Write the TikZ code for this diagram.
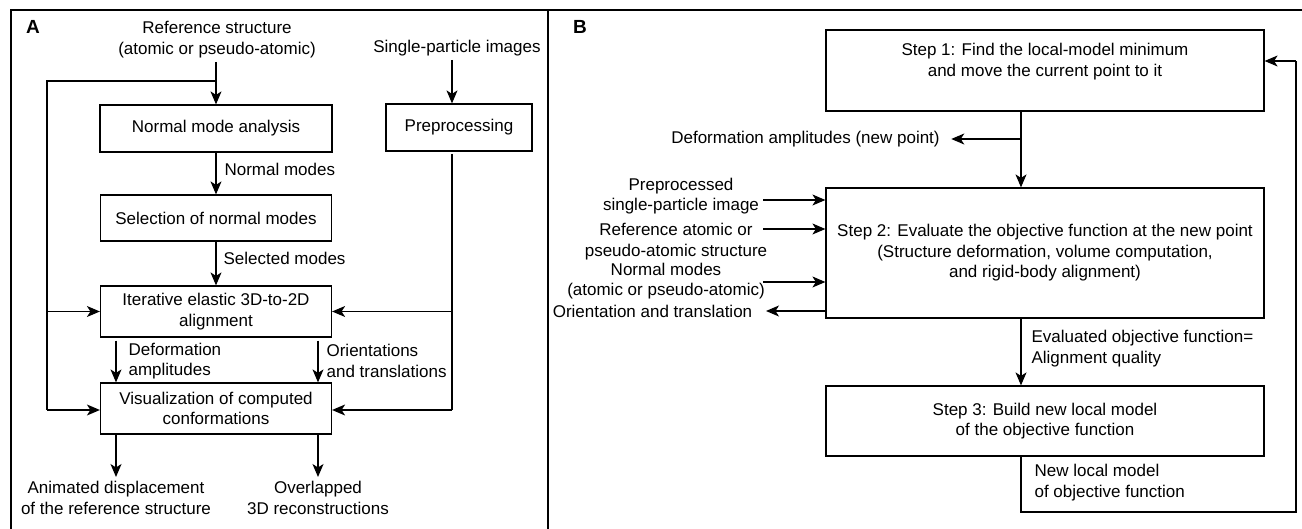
\documentclass[tikz,border=0pt]{standalone}
\usepackage{fontspec}
\setmainfont{Liberation Sans}
\usetikzlibrary{arrows.meta}
\begin{document}
\begin{tikzpicture}[x=1pt,y=-1pt,
  font=\fontsize{17}{20.5}\selectfont,
  line width=1.2pt,
  arr/.style={-{Stealth[length=13pt,width=11pt,inset=3.5pt]}},
  box/.style={draw,inner sep=0pt,align=center},
  lbl/.style={inner sep=0pt,align=center},
  lbll/.style={inner sep=0pt,align=left,anchor=west},
  panel/.style={font=\fontsize{19}{22}\selectfont\bfseries,inner sep=0pt}]
\useasboundingbox (0,0) rectangle (1302,529);
% frame
\coordinate (fTL) at (11,529);
\coordinate (fT) at (11,10);
\coordinate (fTR) at (1302,10);
\coordinate (dT) at (548,10);
\coordinate (dB) at (548,529);
\draw (fTL) -- (fT) -- (fTR);
\draw (dT) -- (dB);
\node[panel] (labA) at (33,27) {A};
\node[panel] (labB) at (580,27) {B};

% ---------- Panel A ----------
\node[lbl] (ref) at (217,39.5) {Reference structure\\(atomic or pseudo-atomic)};
\node[box,minimum width=232pt,minimum height=47pt] (nma) at (216,128.5) {Normal mode analysis};
\node[box,minimum width=231pt,minimum height=46pt] (sel) at (216,218) {Selection of normal modes};
\node[box,minimum width=231pt,minimum height=51pt] (iter) at (216,311.5) {Iterative elastic 3D-to-2D\\alignment};
\node[box,minimum width=231pt,minimum height=51pt] (vis) at (216,408.5) {Visualization of computed\\conformations};
\node[lbl] (spi) at (457,48) {Single-particle images};
\node[box,minimum width=146pt,minimum height=47pt] (prep) at (459,127.5) {Preprocessing};

\node[lbll] (nmlab) at (224,169) {Normal modes};
\node[lbll] (smlab) at (223,258) {Selected modes};
\node[lbll] (dalab) at (128,361) {Deformation\\amplitudes};
\node[lbll] (otlab) at (326,361) {Orientations\\and translations};
\node[lbl] (anim) at (116,498) {Animated displacement\\of the reference structure};
\node[lbl] (ovl) at (318,498) {Overlapped\\3D reconstructions};

\coordinate (refb) at (216,62);
\coordinate (lsplit) at (216,81);
\coordinate (lcorner) at (47,81);
\coordinate (lbot) at (47,410);
\draw[arr] (refb) -- (nma.north);
\draw (lsplit) -- (lcorner) -- (lbot);
\draw[arr] (lbot) -- (vis.west |- lbot);
\draw[arr] (lcorner |- iter.west) -- (iter.west);
\draw[arr] (nma.south) -- (sel.north);
\draw[arr] (sel.south) -- (iter.north);

\coordinate (cl) at (116,0);
\coordinate (cr) at (318,0);
\coordinate (ab) at (0,477);
\draw[arr] ([yshift=-3pt]iter.south -| cl) -- (vis.north -| cl);
\draw[arr] ([yshift=-3pt]iter.south -| cr) -- (vis.north -| cr);
\draw[arr] (vis.south -| cl) -- (ab -| cl);
\draw[arr] (vis.south -| cr) -- (ab -| cr);

\coordinate (spib) at (452,60);
\coordinate (prepb) at (452,154);
\coordinate (rbot) at (452,410);
\draw[arr] (spib) -- (spib |- prep.north);
\draw (prepb) -- (rbot);
\draw[arr] (rbot) -- (vis.east |- rbot);
\draw[arr] (prepb |- iter.east) -- (iter.east);

% ---------- Panel B ----------
\node[box,minimum width=438pt,minimum height=81pt] (s1) at (1045,70.5) {Step 1: Find the local-model minimum\\and move the current point to it\\[1pt]};
\node[box,minimum width=438pt,minimum height=130pt] (s2) at (1045,253) {Step 2: Evaluate the objective function at the new point\\(Structure deformation, volume computation,\\and rigid-body alignment)};
\node[box,minimum width=438pt,minimum height=70pt] (s3) at (1045,421) {Step 3: Build new local model\\of the objective function};

\coordinate (bx) at (1021,0);
\coordinate (dsplit) at (1021,139);
\node[lbl] (defl) at (805.5,139) {Deformation amplitudes (new point)};
\draw[arr] (s1.south -| bx) -- (s2.north -| bx);
\draw[arr] (dsplit) -- ([xshift=11pt]defl.east);

\node[lbl] (in1) at (681,196) {Preprocessed\\single-particle image};
\node[lbl] (in2) at (676,241.5) {Reference atomic or\\pseudo-atomic structure};
\node[lbl] (in3) at (666,281) {Normal modes\\(atomic or pseudo-atomic)};
\node[lbl] (out1) at (652.5,311) {Orientation and translation};
\coordinate (i1) at (763,200);
\coordinate (i2) at (763,229);
\coordinate (i3) at (763,282);
\coordinate (o1) at (766,311);
\draw[arr] (i1) -- (s2.west |- i1);
\draw[arr] (i2) -- (s2.west |- i2);
\draw[arr] (i3) -- (s2.west |- i3);
\draw[arr] (s2.west |- o1) -- (o1);

\node[lbll] (evl) at (1031,348.5) {Evaluated objective function=\\Alignment quality};
\draw[arr] (s2.south -| bx) -- (s3.north -| bx);

\node[lbll] (nlm) at (1034,482.5) {New local model\\of objective function};
\coordinate (fb1) at (1021,512);
\coordinate (fb2) at (1296,512);
\coordinate (fb3) at (1296,61);
\draw (s3.south -| bx) -- (fb1) -- (fb2) -- (fb3);
\draw[arr] (fb3) -- (s1.east |- fb3);
\end{tikzpicture}
\end{document}
